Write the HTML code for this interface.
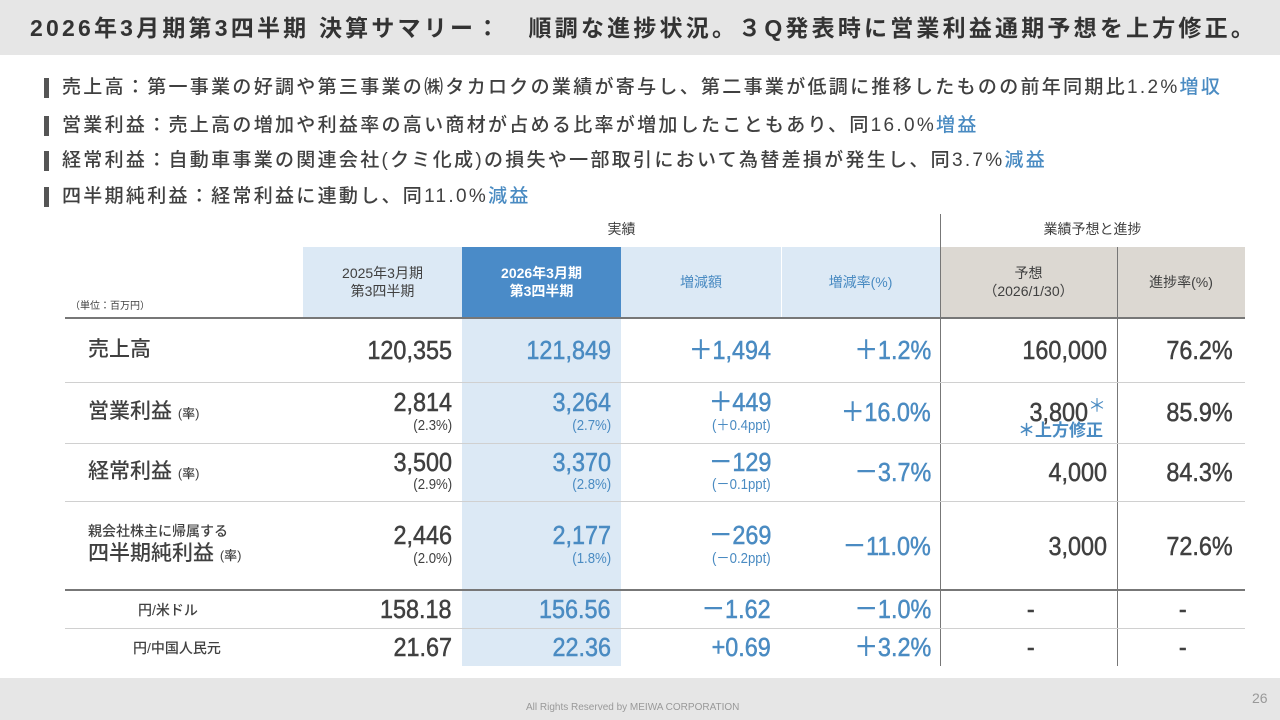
<!DOCTYPE html>
<html><head><meta charset="utf-8">
<style>
body{margin:0;width:1280px;height:720px;position:relative;overflow:hidden;background:#fff;font-family:"Liberation Sans","Noto Sans CJK JP",sans-serif;color:#404040}
.a{position:absolute}
.t{position:absolute;white-space:nowrap}
.n{position:absolute;white-space:nowrap;font-size:26px;line-height:26px;-webkit-text-stroke:0.5px currentColor;transform:scaleX(.9);transform-origin:right center;text-align:right}
.s{position:absolute;white-space:nowrap;font-size:15px;line-height:15px;transform:scaleX(.88);transform-origin:right center;text-align:right}
.b{color:#4a8bc2}
.bul{position:absolute;left:44px;width:5px;height:20px;background:#555}
.bt{position:absolute;left:62px;font-size:19px;line-height:20px;letter-spacing:2.3px;white-space:nowrap;color:#404040;font-weight:500}
.hl{position:absolute;height:1px;background:#d0d0d0;left:65px;width:1180px}
.hd{position:absolute;font-size:14px;line-height:18px;text-align:center}
.lab{position:absolute;left:88px;font-size:21px;line-height:22px;white-space:nowrap;font-weight:500}
</style></head><body>
<div class="a" style="left:0;top:0;width:1280px;height:55px;background:#e6e6e6"></div>
<div class="t" style="left:30px;top:15px;font-size:23px;line-height:27px;letter-spacing:3.2px;font-weight:bold;color:#333">2026年3月期第3四半期 決算サマリー：　順調な進捗状況。３Q発表時に営業利益通期予想を上方修正。</div>

<div class="bul" style="top:78px"></div><div class="bt" style="top:78px">売上高：第一事業の好調や第三事業の㈱タカロクの業績が寄与し、第二事業が低調に推移したものの前年同期比1.2%<span class="b">増収</span></div>
<div class="bul" style="top:116px"></div><div class="bt" style="top:116px">営業利益：売上高の増加や利益率の高い商材が占める比率が増加したこともあり、同16.0%<span class="b">増益</span></div>
<div class="bul" style="top:151px"></div><div class="bt" style="top:151px">経常利益：自動車事業の関連会社(クミ化成)の損失や一部取引において為替差損が発生し、同3.7%<span class="b">減益</span></div>
<div class="bul" style="top:187px"></div><div class="bt" style="top:187px">四半期純利益：経常利益に連動し、同11.0%<span class="b">減益</span></div>

<div class="a" style="left:303px;top:247px;width:159px;height:71px;background:#dce9f5"></div>
<div class="a" style="left:462px;top:247px;width:159px;height:419px;background:#dce9f5"></div>
<div class="a" style="left:462px;top:247px;width:159px;height:71px;background:#4a8bc8"></div>
<div class="a" style="left:621px;top:247px;width:319px;height:71px;background:#dce9f5"></div>
<div class="a" style="left:781px;top:247px;width:1px;height:71px;background:#fff"></div>
<div class="a" style="left:940px;top:247px;width:305px;height:71px;background:#dcd8d2"></div>
<div class="a" style="left:940px;top:214px;width:1px;height:452px;background:#777"></div>
<div class="a" style="left:1117px;top:247px;width:1px;height:419px;background:#777"></div>

<div class="hd" style="left:462px;top:220px;width:319px">実績</div>
<div class="hd" style="left:940px;top:220px;width:305px">業績予想と進捗</div>
<div class="t" style="left:70px;top:297px;font-size:10px">（単位：百万円）</div>
<div class="hd" style="left:303px;top:264px;width:159px">2025年3月期<br>第3四半期</div>
<div class="hd" style="left:462px;top:264px;width:159px;color:#fff;font-weight:bold">2026年3月期<br>第3四半期</div>
<div class="hd b" style="left:621px;top:273px;width:160px">増減額</div>
<div class="hd b" style="left:781px;top:273px;width:159px">増減率(%)</div>
<div class="hd" style="left:940px;top:264px;width:177px">予想<br>（2026/1/30）</div>
<div class="hd" style="left:1117px;top:273px;width:128px">進捗率(%)</div>

<div class="a" style="left:65px;top:317px;width:1180px;height:2px;background:#777"></div>
<div class="hl" style="top:382px"></div>
<div class="hl" style="top:443px"></div>
<div class="hl" style="top:501px"></div>
<div class="a" style="left:65px;top:589px;width:1180px;height:2px;background:#777"></div>
<div class="hl" style="top:628px"></div>

<div class="a" style="left:0;top:678px;width:1280px;height:42px;background:#e6e6e6"></div>
<div class="t" style="left:526px;top:702px;font-size:10px;color:#999">All Rights Reserved by MEIWA CORPORATION</div>
<div class="t" style="left:1252px;top:690px;font-size:14px;color:#999">26</div>

<div class="lab" style="top:339px">売上高</div>
<div class="lab" style="top:401px">営業利益 <span style="font-size:13px">(率)</span></div>
<div class="lab" style="top:461px">経常利益 <span style="font-size:13px">(率)</span></div>
<div class="lab" style="top:522px;font-size:14px;line-height:18px">親会社株主に帰属する</div>
<div class="lab" style="top:543px">四半期純利益 <span style="font-size:13px">(率)</span></div>
<div class="t" style="left:138px;top:600px;font-size:14px;font-weight:500">円/米ドル</div>
<div class="t" style="left:133px;top:638px;font-size:14px;font-weight:500">円/中国人民元</div>

<div id="cells"></div>
<script>
const rights=[452,611,771,931,1107,1233];
const mainTops=[337,389,449,522,596,634];
const singleTops=[337,399,459,533,596,634];
const subTops=[418,477,551];
const col1=['120,355','2,814','3,500','2,446','158.18','21.67'];
const col2=['121,849','3,264','3,370','2,177','156.56','22.36'];
const col3=['＋1,494','＋449','－129','－269','－1.62','+0.69'];
const col4=['＋1.2%','＋16.0%','－3.7%','－11.0%','－1.0%','＋3.2%'];
const col5=['160,000','3,800','4,000','3,000','-','-'];
const col6=['76.2%','85.9%','84.3%','72.6%','-','-'];
const sub1=['(2.3%)','(2.9%)','(2.0%)'];
const sub2=['(2.7%)','(2.8%)','(1.8%)'];
const sub3=['(＋0.4ppt)','(－0.1ppt)','(－0.2ppt)'];
const root=document.getElementById('cells');
function put(cls,txt,right,top,blue){
  const d=document.createElement('div');
  d.className=cls+(blue?' b':'');
  d.textContent=txt;
  d.style.right=(1280-right)+'px';
  d.style.top=top+'px';
  root.appendChild(d);return d;
}
[col1,col2,col3,col4,col5,col6].forEach((col,ci)=>{
  col.forEach((v,ri)=>{
    const hasSub=(ci<3&&ri>=1&&ri<=3);
    const top=hasSub?mainTops[ri]:singleTops[ri];
    let r=rights[ci];
    if(v==='-'){r=ci===4?1035:1187;}
    if(ci===4&&ri===1){r=1088;}
    const d=put('n',v,r,top,ci>=1&&ci<=3);
    
    
  });
});
[sub1,sub2,sub3].forEach((col,ci)=>{
  col.forEach((v,i)=>{
    const d=put('s',v,rights[ci],subTops[i],ci>=1);
    
    
  });
});
const ast=put('t','＊',1110,392,true);ast.style.right='';ast.style.left='1088px';ast.style.fontSize='18px';
const rev=put('t','＊上方修正',1107,416,true);rev.style.right='';rev.style.left='1018px';rev.style.fontSize='17px';rev.style.fontWeight='bold';


</script>
</body></html>
